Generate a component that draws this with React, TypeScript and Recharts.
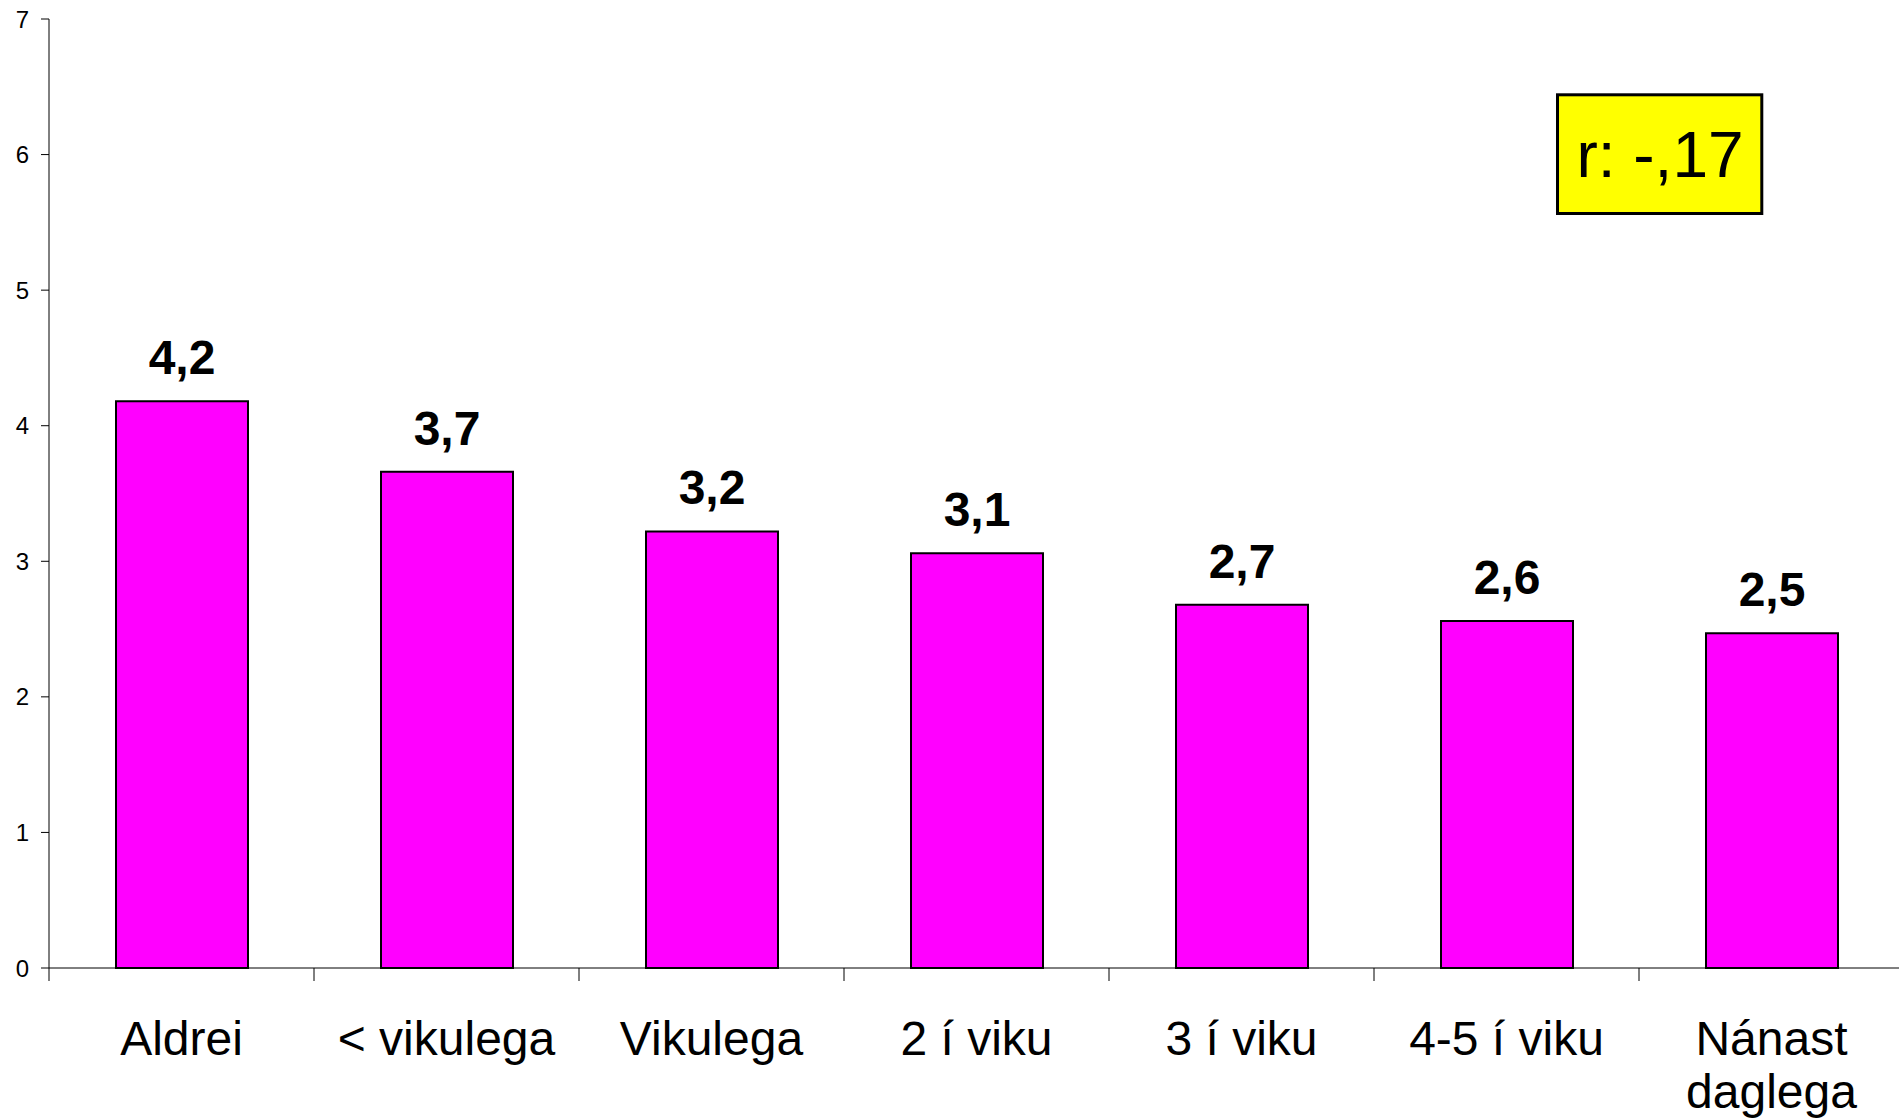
import { Bar, BarChart, LabelList, XAxis, YAxis } from "recharts";

const categories = [
  "Aldrei",
  "< vikulega",
  "Vikulega",
  "2 í viku",
  "3 í viku",
  "4-5 í viku",
  "Nánast daglega",
];
const means = [4.18, 3.66, 3.22, 3.06, 2.68, 2.56, 2.47];
const yTicks = [0, 1, 2, 3, 4, 5, 6, 7];
const correlation = "r: -,17";

const data = categories.map((name, i) => ({ name, value: means[i] }));

const FONT = "'Liberation Sans', Arial, sans-serif";
const CHART_W = 1904;
const CHART_H = 1119;
const Y_AXIS_W = 49;
const BAND = (CHART_W - Y_AXIS_W) / categories.length;

// long labels don't fit the band at 48px, break them at the first space
function wrapLabel(s: string): string[] {
  if (s.length <= 12) return [s];
  const i = s.indexOf(" ");
  return i < 0 ? [s] : [s.slice(0, i), s.slice(i + 1)];
}

// excel-style: tick marks sit between categories
function CategoryTick({ x, y, payload }: any) {
  const left = x - BAND / 2;
  const lines = wrapLabel(String(payload.value));
  return (
    <g>
      <line x1={left} x2={left} y1={y} y2={y + 13} stroke="#000000" strokeWidth={1} />
      <text x={x} y={y + 87} textAnchor="middle" fontSize={48} fontFamily={FONT} fill="#000000">
        {lines.map((l, i) => (
          <tspan key={i} x={x} dy={i === 0 ? 0 : 53}>
            {l}
          </tspan>
        ))}
      </text>
    </g>
  );
}

function ValueLabel({ x, y, width, value }: any) {
  return (
    <text
      x={Number(x) + Number(width) / 2}
      y={Number(y) - 27}
      textAnchor="middle"
      fontSize={48}
      fontWeight="bold"
      fontFamily={FONT}
      fill="#000000"
    >
      {Number(value).toFixed(1).replace(".", ",")}
    </text>
  );
}

export default function App() {
  return (
    <div
      style={{
        position: "absolute",
        left: 0,
        top: 0,
        width: 1899,
        height: 1119,
        overflow: "hidden",
        background: "#ffffff",
      }}
    >
      <BarChart
        width={CHART_W}
        height={CHART_H}
        data={data}
        margin={{ top: 19, right: 0, bottom: 1, left: 0 }}
      >
        <XAxis
          dataKey="name"
          type="category"
          height={150}
          stroke="#000000"
          tickLine={false}
          tickSize={0}
          tickMargin={0}
          interval={0}
          tick={<CategoryTick />}
        />
        <YAxis
          type="number"
          domain={[0, 7]}
          ticks={yTicks}
          width={Y_AXIS_W}
          stroke="#000000"
          tickSize={8}
          tickMargin={12}
          interval={0}
          tick={{ fontSize: 24, fontFamily: FONT, fill: "#000000" }}
        />
        <Bar
          dataKey="value"
          fill="#FF00FF"
          stroke="#000000"
          strokeWidth={2}
          barSize={132}
          isAnimationActive={false}
        >
          <LabelList dataKey="value" content={<ValueLabel />} />
        </Bar>
      </BarChart>
      <svg
        width={1899}
        height={1119}
        style={{ position: "absolute", left: 0, top: 0, pointerEvents: "none" }}
      >
        <rect
          x={1557.5}
          y={94.8}
          width={204.3}
          height={118.7}
          fill="#FFFF00"
          stroke="#000000"
          strokeWidth={3}
        />
        <text x={1660} y={177} textAnchor="middle" fontSize={64} fontFamily={FONT} fill="#000000">
          {correlation}
        </text>
      </svg>
    </div>
  );
}
